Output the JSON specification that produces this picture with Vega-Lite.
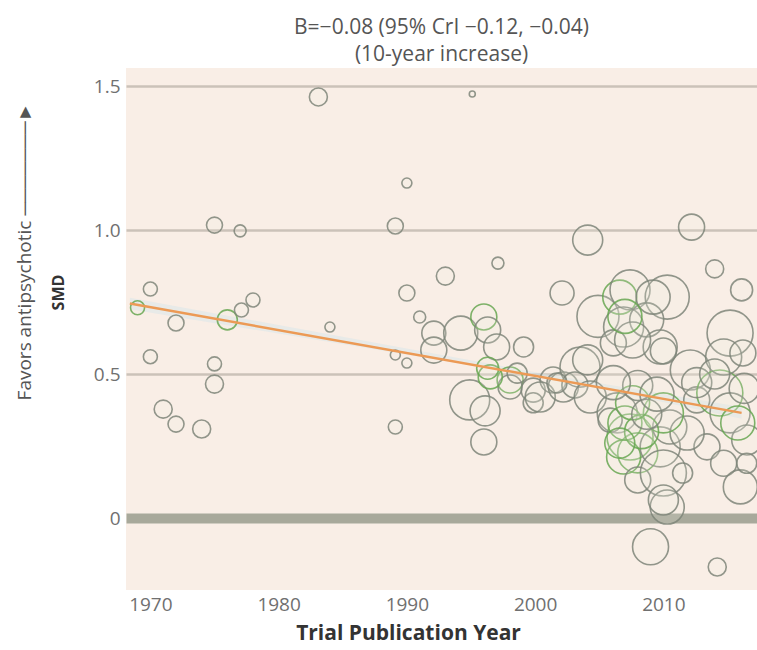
{
  "$schema": "https://vega.github.io/schema/vega-lite/v6.json",
  "autosize": {"type": "none"},
  "padding": {"left": 126, "top": 68, "right": 0, "bottom": 60},
  "width": 631,
  "height": 522,
  "background": "#ffffff",
  "config": {
    "view": {"fill": "#f9eee6", "stroke": null},
    "font": "Open Sans"
  },
  "title": {
    "text": ["B=−0.08 (95% CrI −0.12, −0.04)", "(10-year increase)"],
    "anchor": "middle",
    "frame": "group",
    "fontSize": 21,
    "fontWeight": "normal",
    "color": "#555555",
    "font": "Open Sans",
    "lineHeight": 27,
    "offset": 3
  },
  "datasets": {
    "trials": [
      {"year":1969.0,"smd":0.73,"w":49,"type":"g"},
      {"year":1970.0,"smd":0.795,"w":49,"type":"a"},
      {"year":1970.0,"smd":0.56,"w":49,"type":"a"},
      {"year":1971.0,"smd":0.378,"w":81,"type":"a"},
      {"year":1972.0,"smd":0.326,"w":64,"type":"a"},
      {"year":1972.0,"smd":0.677,"w":64,"type":"a"},
      {"year":1974.0,"smd":0.309,"w":81,"type":"a"},
      {"year":1975.0,"smd":1.017,"w":64,"type":"a"},
      {"year":1975.0,"smd":0.535,"w":49,"type":"a"},
      {"year":1975.0,"smd":0.465,"w":81,"type":"a"},
      {"year":1977.0,"smd":0.997,"w":36,"type":"a"},
      {"year":1976.0,"smd":0.688,"w":100,"type":"g"},
      {"year":1977.1,"smd":0.722,"w":49,"type":"a"},
      {"year":1978.0,"smd":0.757,"w":49,"type":"a"},
      {"year":1983.1,"smd":1.462,"w":81,"type":"a"},
      {"year":1984.0,"smd":0.663,"w":25,"type":"a"},
      {"year":1989.1,"smd":1.014,"w":64,"type":"a"},
      {"year":1989.1,"smd":0.566,"w":25,"type":"a"},
      {"year":1989.1,"smd":0.316,"w":49,"type":"a"},
      {"year":1990.0,"smd":1.163,"w":25,"type":"a"},
      {"year":1990.0,"smd":0.781,"w":64,"type":"a"},
      {"year":1990.0,"smd":0.538,"w":25,"type":"a"},
      {"year":1991.0,"smd":0.698,"w":36,"type":"a"},
      {"year":1993.0,"smd":0.84,"w":81,"type":"a"},
      {"year":1992.1,"smd":0.642,"w":144,"type":"a"},
      {"year":1992.1,"smd":0.583,"w":169,"type":"a"},
      {"year":1995.1,"smd":1.472,"w":9,"type":"a"},
      {"year":1997.1,"smd":0.885,"w":36,"type":"a"},
      {"year":1994.2,"smd":0.642,"w":289,"type":"a"},
      {"year":1996.0,"smd":0.698,"w":169,"type":"g"},
      {"year":1996.3,"smd":0.653,"w":169,"type":"a"},
      {"year":1997.0,"smd":0.594,"w":169,"type":"a"},
      {"year":1999.1,"smd":0.594,"w":100,"type":"a"},
      {"year":1994.9,"smd":0.41,"w":400,"type":"a"},
      {"year":1996.1,"smd":0.372,"w":225,"type":"a"},
      {"year":1996.0,"smd":0.264,"w":169,"type":"a"},
      {"year":1998.05,"smd":0.479,"w":169,"type":"g"},
      {"year":1998.05,"smd":0.455,"w":144,"type":"a"},
      {"year":1999.85,"smd":0.444,"w":144,"type":"a"},
      {"year":1999.85,"smd":0.40,"w":100,"type":"a"},
      {"year":1996.5,"smd":0.49,"w":144,"type":"g"},
      {"year":2001.4,"smd":0.479,"w":169,"type":"a"},
      {"year":1998.6,"smd":0.503,"w":100,"type":"a"},
      {"year":1996.3,"smd":0.52,"w":121,"type":"g"},
      {"year":2002.1,"smd":0.781,"w":144,"type":"a"},
      {"year":2004.1,"smd":0.965,"w":225,"type":"a"},
      {"year":2000.4,"smd":0.42,"w":225,"type":"a"},
      {"year":2002.2,"smd":0.455,"w":225,"type":"a"},
      {"year":2003.5,"smd":0.524,"w":400,"type":"a"},
      {"year":2003.1,"smd":0.462,"w":169,"type":"a"},
      {"year":2004.3,"smd":0.42,"w":256,"type":"a"},
      {"year":2004.1,"smd":0.549,"w":225,"type":"a"},
      {"year":2004.9,"smd":0.70,"w":441,"type":"a"},
      {"year":2001.7,"smd":0.469,"w":100,"type":"a"},
      {"year":2006.6,"smd":0.767,"w":289,"type":"g"},
      {"year":2007.4,"smd":0.792,"w":400,"type":"a"},
      {"year":2010.3,"smd":0.767,"w":484,"type":"a"},
      {"year":2006.9,"smd":0.663,"w":400,"type":"a"},
      {"year":2008.7,"smd":0.688,"w":289,"type":"a"},
      {"year":2009.75,"smd":0.594,"w":289,"type":"a"},
      {"year":2006.1,"smd":0.608,"w":169,"type":"a"},
      {"year":2007.6,"smd":0.618,"w":324,"type":"a"},
      {"year":2012.1,"smd":0.514,"w":400,"type":"a"},
      {"year":2009.2,"smd":0.767,"w":289,"type":"a"},
      {"year":2007.0,"smd":0.70,"w":289,"type":"g"},
      {"year":2010.0,"smd":0.58,"w":169,"type":"a"},
      {"year":2006.4,"smd":0.365,"w":400,"type":"a"},
      {"year":2007.4,"smd":0.281,"w":529,"type":"g"},
      {"year":2008.0,"smd":0.226,"w":400,"type":"g"},
      {"year":2006.9,"smd":0.212,"w":289,"type":"g"},
      {"year":2009.75,"smd":0.247,"w":400,"type":"a"},
      {"year":2010.5,"smd":0.316,"w":289,"type":"a"},
      {"year":2008.0,"smd":0.132,"w":169,"type":"a"},
      {"year":2010.0,"smd":0.156,"w":529,"type":"a"},
      {"year":2010.3,"smd":0.038,"w":289,"type":"a"},
      {"year":2009.0,"smd":-0.1,"w":324,"type":"a"},
      {"year":2014.2,"smd":-0.17,"w":81,"type":"a"},
      {"year":2005.85,"smd":0.34,"w":144,"type":"a"},
      {"year":2012.6,"smd":0.41,"w":169,"type":"a"},
      {"year":2014.4,"smd":0.434,"w":529,"type":"g"},
      {"year":2015.2,"smd":0.365,"w":400,"type":"a"},
      {"year":2013.4,"smd":0.247,"w":169,"type":"a"},
      {"year":2014.7,"smd":0.19,"w":169,"type":"a"},
      {"year":2016.0,"smd":0.108,"w":289,"type":"a"},
      {"year":2016.5,"smd":0.271,"w":225,"type":"a"},
      {"year":2011.85,"smd":0.295,"w":289,"type":"a"},
      {"year":2011.5,"smd":0.156,"w":100,"type":"a"},
      {"year":2010.0,"smd":0.0625,"w":225,"type":"a"},
      {"year":2014.0,"smd":0.865,"w":81,"type":"a"},
      {"year":2016.1,"smd":0.792,"w":121,"type":"a"},
      {"year":2012.2,"smd":1.01,"w":169,"type":"a"},
      {"year":2015.2,"smd":0.642,"w":529,"type":"a"},
      {"year":2014.7,"smd":0.559,"w":324,"type":"a"},
      {"year":2016.2,"smd":0.573,"w":169,"type":"a"},
      {"year":2010.0,"smd":0.365,"w":400,"type":"g"},
      {"year":2016.5,"smd":0.19,"w":100,"type":"a"},
      {"year":2007.0,"smd":0.33,"w":289,"type":"g"},
      {"year":2008.3,"smd":0.30,"w":289,"type":"g"},
      {"year":2007.6,"smd":0.40,"w":289,"type":"g"},
      {"year":2008.7,"smd":0.36,"w":225,"type":"a"},
      {"year":2006.6,"smd":0.26,"w":225,"type":"g"},
      {"year":2008.0,"smd":0.46,"w":225,"type":"a"},
      {"year":2006.1,"smd":0.47,"w":289,"type":"a"},
      {"year":2009.5,"smd":0.43,"w":289,"type":"a"},
      {"year":2012.6,"smd":0.47,"w":225,"type":"a"},
      {"year":2016.3,"smd":0.45,"w":225,"type":"a"},
      {"year":2014.0,"smd":0.50,"w":225,"type":"a"},
      {"year":2015.8,"smd":0.33,"w":289,"type":"g"}
    ],
    "fit": [
      {"year":1968.4,"fit":0.745},
      {"year":2016.1,"fit":0.365}
    ],
    "band": [
      {"year":1968.4,"lo":0.725,"hi":0.765},
      {"year":2001.0,"lo":0.487,"hi":0.498},
      {"year":2016.1,"lo":0.345,"hi":0.385}
    ]
  },
  "layer": [
    {
      "data": {"name": "band"},
      "mark": {"type": "area", "color": "#d3e4ec", "opacity": 0.45},
      "encoding": {
        "x": {"field": "year", "type": "quantitative", "scale": {"domain": [1968.1, 2017.3], "nice": false, "zero": false}},
        "y": {"field": "lo", "type": "quantitative", "axis": null, "scale": {"domain": [-0.25, 1.5625], "nice": false, "zero": false}},
        "y2": {"field": "hi"}
      }
    },
    {
      "data": {"name": "trials"},
      "mark": {"type": "point", "shape": "circle", "filled": false, "strokeWidth": 1.6, "opacity": 0.85, "fill": "#eef2e2", "fillOpacity": 0.2},
      "encoding": {
        "x": {
          "field": "year", "type": "quantitative",
          "scale": {"domain": [1968.1, 2017.3], "nice": false, "zero": false},
          "axis": {
            "values": [1970, 1980, 1990, 2000, 2010],
            "format": "d",
            "grid": false, "ticks": false, "domain": false,
            "labelFontSize": 19, "labelColor": "#707070", "labelPadding": 5, "labelFont": "Open Sans",
            "title": "Trial Publication Year",
            "titleFontSize": 21, "titleFontWeight": "bold", "titleColor": "#333333", "titleFont": "Open Sans",
            "titlePadding": 8, "titleX": 282, "titleAlign": "center"
          }
        },
        "y": {
          "field": "smd", "type": "quantitative",
          "scale": {"domain": [-0.25, 1.5625], "nice": false, "zero": false},
          "axis": {
            "values": [0, 0.5, 1, 1.5],
            "labelExpr": "datum.value === 0 ? '0' : format(datum.value, '.1f')",
            "ticks": false, "domain": false,
            "grid": true,
            "gridColor": {"condition": {"test": "datum.value === 0", "value": "#a8a99b"}, "value": "#cbc2b9"},
            "gridWidth": {"condition": {"test": "datum.value === 0", "value": 10}, "value": 2.5},
            "labelFontSize": 19, "labelColor": "#707070", "labelPadding": 6, "labelFont": "Open Sans",
            "title": "SMD",
            "titleFontSize": 16, "titleFontWeight": "bold", "titleColor": "#333333", "titleFont": "Open Sans",
            "titleX": -68, "titleY": 224, "titleBaseline": "middle", "titleAngle": -90, "titleAlign": "center"
          }
        },
        "size": {"field": "w", "type": "quantitative", "scale": {"type": "linear", "domain": [0, 625], "range": [0, 2500]}, "legend": null},
        "color": {"field": "type", "type": "nominal", "scale": {"domain": ["a", "g"], "range": ["#7f867a", "#68a752"]}, "legend": null}
      }
    },
    {
      "data": {"name": "fit"},
      "mark": {"type": "line", "color": "#ec9a55", "strokeWidth": 2.5},
      "encoding": {
        "x": {"field": "year", "type": "quantitative", "scale": {"domain": [1968.1, 2017.3], "nice": false, "zero": false}},
        "y": {
          "field": "fit", "type": "quantitative",
          "scale": {"domain": [-0.25, 1.5625], "nice": false, "zero": false},
          "axis": {
            "orient": "left",
            "labels": false, "ticks": false, "domain": false, "grid": false,
            "title": "Favors antipsychotic ───────►",
            "titleFontSize": 19, "titleFontWeight": "normal", "titleColor": "#555555", "titleFont": "Open Sans",
            "titleX": -102, "titleY": 183, "titleBaseline": "middle", "titleAngle": -90, "titleAlign": "center"
          }
        }
      }
    }
  ],
  "resolve": {"axis": {"y": "independent"}}
}
